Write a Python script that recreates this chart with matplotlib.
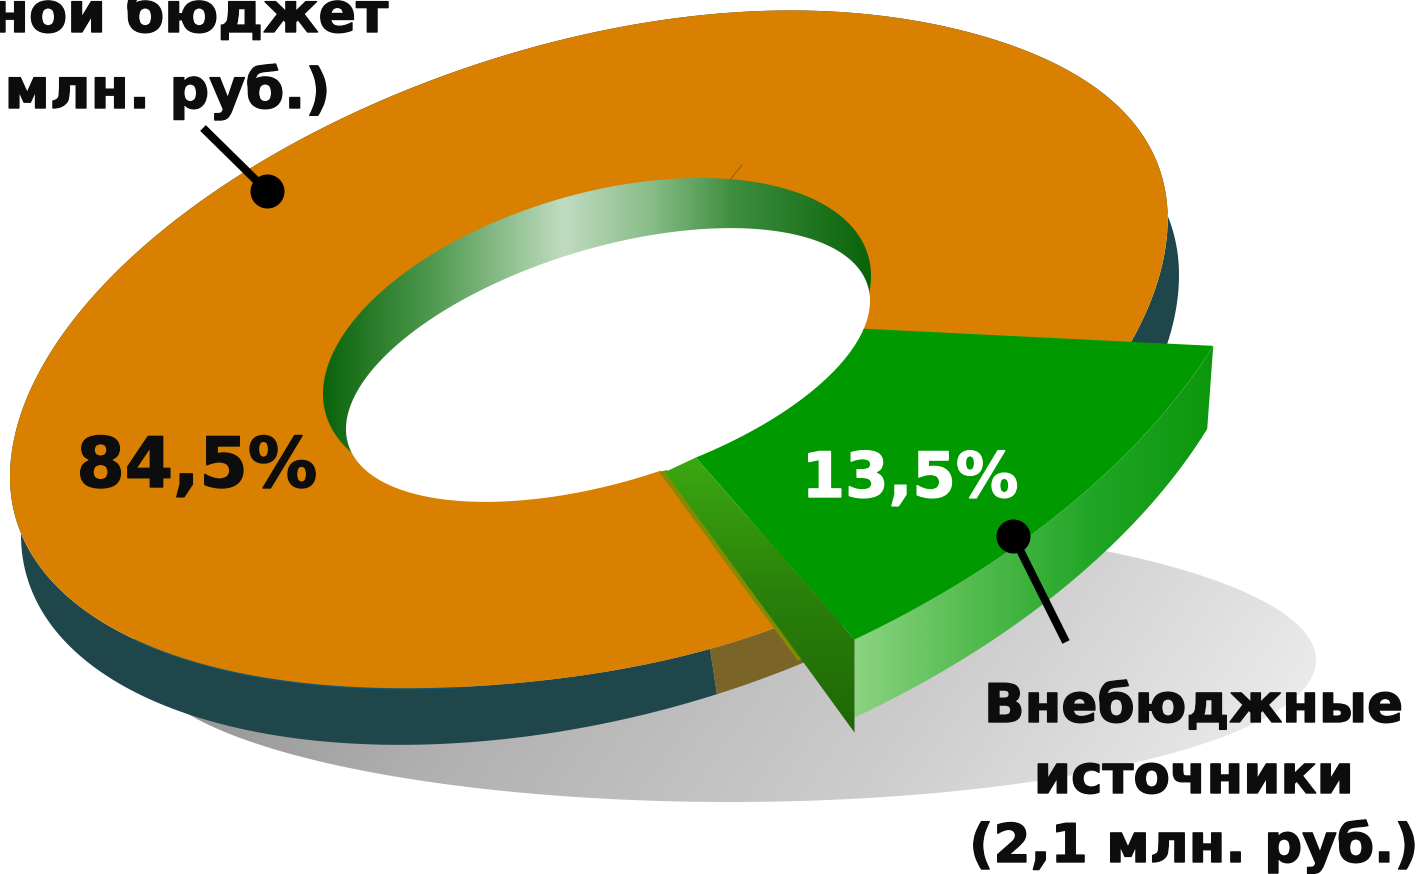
import numpy as np
import matplotlib
matplotlib.use("Agg")
import matplotlib.pyplot as plt
import matplotlib.patheffects as pe
from matplotlib.colors import LinearSegmentedColormap
from matplotlib.patches import Polygon

plt.rcParams['font.family'] = ['DejaVu Sans']

# доли секторов, по часовой стрелке от правого среза
shares = [13.5, 2.0, 84.5]
share_labels = ["13,5%", "", "84,5%"]
label_lines_right = ["Внебюджные", "источники", "(2,1 млн. руб.)"]
label_lines_left = ["ной бюджет", "млн. руб.)"]

start_angle = 25.0
ORANGE = "#DA8000"
GREEN = "#009900"
TEAL = "#1F464A"
BROWN = "#7A6428"
INK = "#0D0D0D"

W, H = 1418, 874
fig = plt.figure(figsize=(W / 100, H / 100), dpi=100)
ax = fig.add_axes([0, 0, 1, 1])
ax.set_xlim(0, W)
ax.set_ylim(H, 0)
ax.axis("off")


def bump_at(deg, center, width):
    d = (deg - center + 180) % 360 - 180
    return np.exp(-(d / width) ** 2)


def ring(t_deg, center, lx, ly, lxy):
    """Точка наклонного эллипса по углу в градусах"""
    t = np.radians(np.asarray(t_deg, dtype=float))
    x = center[0] + lx * np.cos(t)
    y = center[1] + lxy * np.cos(t) + ly * np.sin(t)
    return np.column_stack([x, y])


def warped(t_deg, center, amp_low, amp_high):
    """Внешний край: эллипс немного неровный, нижняя половина сдвинута вправо"""
    deg = np.asarray(t_deg, dtype=float)
    p = ring(deg, (0, 0), 579, 314, -130)
    r = 1 + amp_low * bump_at(deg, 72, 25) - amp_high * bump_at(deg, 312, 26)
    p = p * r.reshape(-1, 1)
    s = np.sin(np.radians(deg))
    p[:, 0] += center[0] + 25 * np.where(s > 0, s ** 2, 0)
    p[:, 1] += center[1]
    return p


def outer(t, amp_low=0.05):
    return warped(t, (589, 347), amp_low, 0.018)


def outer_plain(t):
    return warped(t, (589, 347), 0.0, 0.0)


def rim(t):
    return warped(t, (600, 405), 0.0, 0.0)


def hole(t):
    return ring(t, (608, 365), 262, 121, -64)


def hole_top(t):
    return ring(t, (597, 335), 274, 145.5, -59)


def gradient_fill(points, colors, extent, grid=None, zorder=1):
    """Заливка многоугольника градиентом через imshow и clip_path"""
    cmap = LinearSegmentedColormap.from_list("g", colors)
    if grid is None:
        grid = np.linspace(0, 1, 512).reshape(1, -1)
    im = ax.imshow(grid, cmap=cmap, vmin=0, vmax=1, extent=extent,
                   aspect="auto", zorder=zorder, interpolation="bilinear")
    patch = Polygon(points, closed=True, transform=ax.transData, fc="none", ec="none")
    ax.add_patch(patch)
    im.set_clip_path(patch)
    ax.set_xlim(0, W)
    ax.set_ylim(H, 0)


edges = start_angle + np.cumsum([0] + shares) * 3.6
green_a, green_b, third_b, orange_b = edges

# тень
all_t = np.linspace(0, 360, 361)
shadow = np.column_stack([730 + 586 * np.cos(np.radians(all_t)),
                          660 + 142 * np.sin(np.radians(all_t))])
gx, gy = np.meshgrid(np.linspace(0, 1, 400), np.linspace(0, 1, 120))
gradient_fill(shadow, ["#858585", "#B0B0B0", "#CDCDCD", "#F2F2F2"],
              (140, 1320, 810, 510), grid=np.clip(0.85 * gx + 0.15 * gy, 0, 1), zorder=1)

# боковая стенка оранжевого сектора
arc = np.linspace(third_b, orange_b, 400)
ax.fill(*np.vstack([rim(arc), outer(arc[::-1])]).T, color=TEAL, zorder=2, lw=0)
# стенка узкого сектора уходит под срез зеленого
arc = np.linspace(green_b - 6, third_b, 30)
ax.fill(*np.vstack([rim(arc), outer(arc[::-1])]).T, color=BROWN, zorder=2.5, lw=0)

# верх оранжевого сектора, начало дуги спрятано под зеленым срезом
arc = np.linspace(green_b - 8, orange_b, 600)
inner_a = hole(np.array([13.0]))
inner_b = hole(np.array([78.5]))
ax.fill(*np.vstack([outer(arc), inner_a, inner_b]).T, color=ORANGE, zorder=3, lw=0)
arc = np.linspace(105, 143, 60)
ax.plot(*outer(arc).T, color="#14566F", lw=2, zorder=2.9)
ax.plot([730, 742], [180, 165], color="#7A5A20", lw=0.6, zorder=3.1)

# внутренняя стенка отверстия и само отверстие
wall_colors = [(0, "#0A640A"), (0.2, "#4F9A50"), (0.44, "#C0DCC0"), (0.6, "#88BC88"),
               (0.75, "#3E8E3E"), (1, "#0A640A")]
gradient_fill(hole_top(all_t), wall_colors, (323, 871, 500, 170), zorder=4)
ax.fill(*hole(all_t).T, color="white", zorder=5, lw=0)

# выдвинутый зеленый сектор
arc = np.linspace(green_a, green_b, 120)
w = np.linspace(0, 1, 120).reshape(-1, 1)
top_edge = outer_plain(arc) + (1 - w) * np.array([95, -16]) + w * np.array([79, 28])
bottom_edge = top_edge + (1 - w) * np.array([-6, 83]) + w * np.array([0, 78])
gradient_fill(np.vstack([top_edge, bottom_edge[::-1]]),
              ["#90D585", "#55BC50", "#20A525", "#0A960A"], (845, 1220, 740, 340), zorder=6)
inner_arc = hole(np.linspace(12.5, 70.4, 60))
ax.fill(*np.vstack([top_edge, inner_arc[::-1]]).T, color=GREEN, zorder=7, lw=0)

# срез зеленого сектора и полоска рядом
corner = top_edge[-1]
quad = np.array([[665, 472], inner_arc[-1], corner, corner + np.array([0, 93])])
gradient_fill(quad, ["#3BAA10", "#2A800A", "#1E6605"], (655, 865, 740, 450),
              grid=np.linspace(0, 1, 256).reshape(-1, 1), zorder=6.5)
ax.fill([659, 667, 804, 798], [472, 470, 658, 661], color="#858A00", zorder=6.4, lw=0)

# подписи, контур утолщает начертание
heavy = [pe.withStroke(linewidth=1.0, foreground=INK)]
ax.text(197, 487, share_labels[2], fontsize=50, fontweight="bold", color=INK, ha="center", va="baseline",
        zorder=10, path_effects=heavy)
ax.text(910, 497, share_labels[0], fontsize=45, fontweight="bold", color="white", ha="center", va="baseline",
        zorder=10, path_effects=[pe.withStroke(linewidth=1.0, foreground="white")])
for line, y in zip(label_lines_right, [722, 793, 862]):
    ax.text(1194, y, line, fontsize=38.3, fontweight="bold", color=INK, ha="center", va="baseline",
            zorder=10, path_effects=heavy)
for line, xr, y in zip(label_lines_left, [388, 330], [32, 108]):
    ax.text(xr, y, line, fontsize=40, fontweight="bold", color=INK, ha="right", va="baseline",
            zorder=10, path_effects=heavy)

# выноски
ax.plot([203, 267], [128, 191], color="black", lw=5.8, solid_capstyle="butt", zorder=9)
ax.plot([1013, 1066], [536, 642], color="black", lw=5.8, solid_capstyle="butt", zorder=9)
ax.scatter([267, 1013], [191, 536], s=600, color="black", lw=0, zorder=9)

fig.savefig("out.png", dpi=100)
